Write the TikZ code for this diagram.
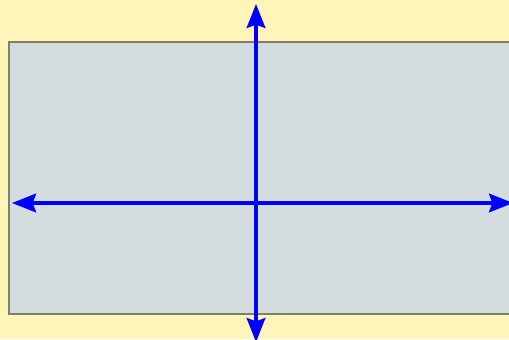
\documentclass[tikz,border=0pt]{standalone}
\usepackage{xcolor}
\usepackage{tikz}
\usetikzlibrary{arrows.meta}
\definecolor{paperbg}{RGB}{255, 245, 185}
\definecolor{planebg}{RGB}{211, 220, 222}
\definecolor{planeedge}{RGB}{128, 128, 104}
\definecolor{axisblue}{RGB}{0, 0, 255}

\begin{document}
\begin{tikzpicture}[
    x=0.75pt, y=-0.75pt,
    plane/.style={fill=planebg, draw=planeedge, line width=2pt},
    axis/.style={{Stealth[length=18pt, width=14pt, inset=2.5pt]}-{Stealth[length=18pt, width=14pt, inset=2.5pt]},
                 axisblue, line width=2.3pt}
  ]

  % Background and frame
  \fill[paperbg] (0,0) rectangle (509,339);
  \useasboundingbox (0,0) rectangle (509,339);
  \clip (0,0) rectangle (509,339);

  % Plane
  \draw[plane] (9,42) rectangle (530,314);

  % Axis end points
  \coordinate (xleft)  at (12,203);
  \coordinate (xright) at (513,203);
  \coordinate (ytop)   at (256,4);
  \coordinate (ybot)   at (256,342);

  % Axes
  \draw[axis] (xleft) -- (xright);
  \draw[axis] (ybot) -- (ytop);

\end{tikzpicture}
\end{document}
